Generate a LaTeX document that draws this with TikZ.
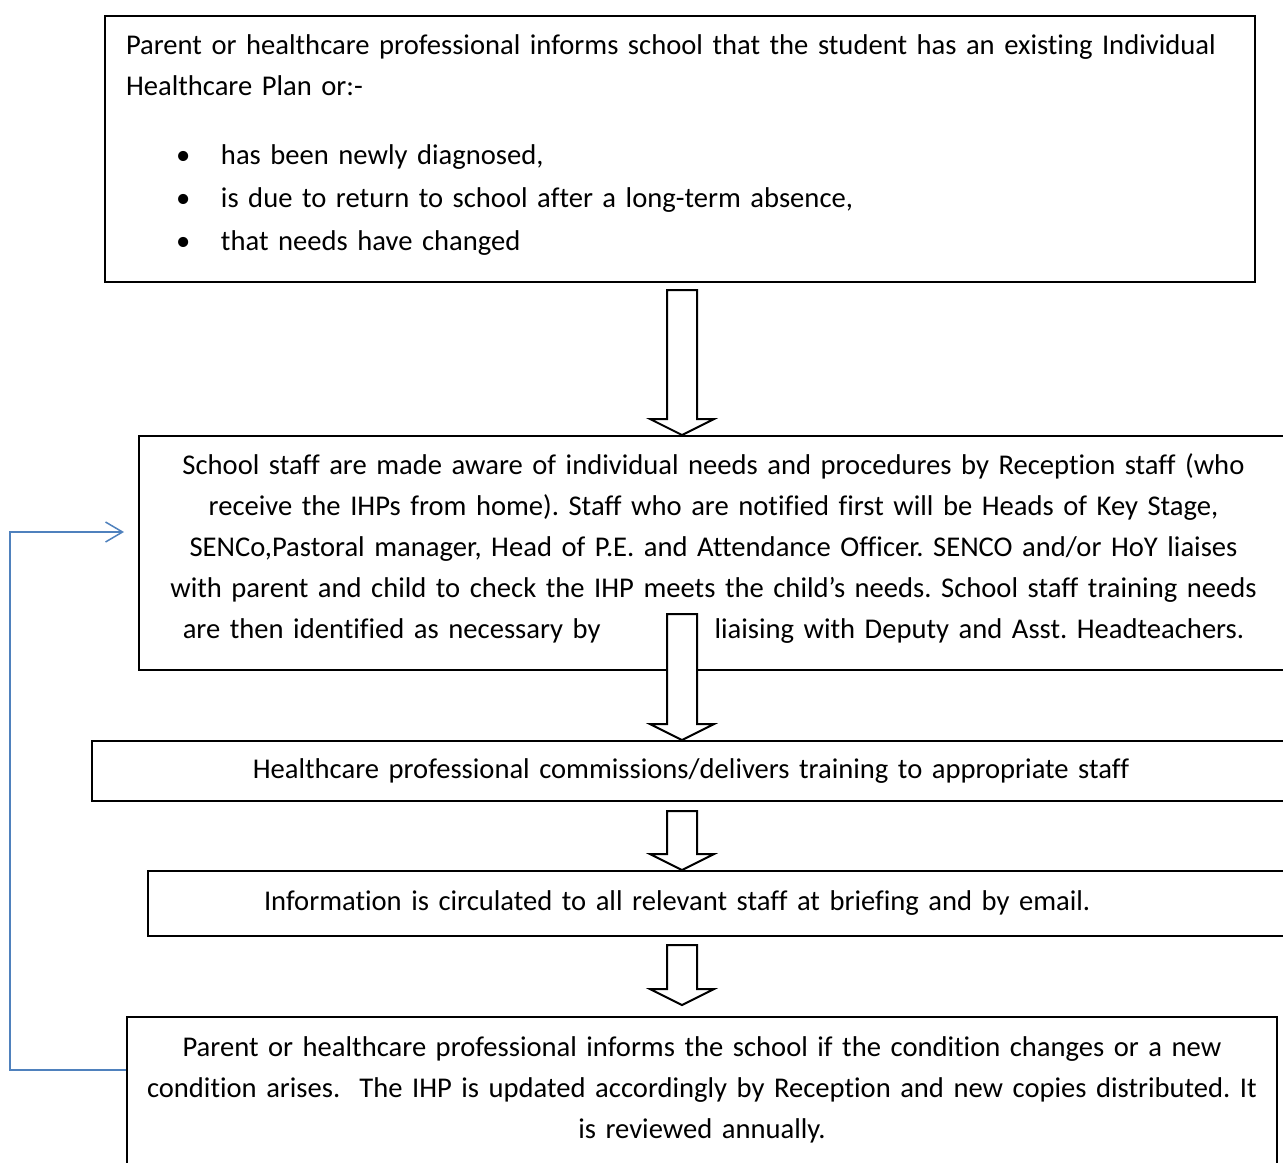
\documentclass[tikz,border=0pt]{standalone}
\usepackage{fontspec}
\setmainfont{Carlito}[Ligatures=NoCommon]
\usetikzlibrary{calc,arrows.meta}
\definecolor{fbblue}{HTML}{4F81BD}
\frenchspacing
\newcommand{\ihpbullet}[1]{\hspace*{25pt}\makebox[22.5pt][l]{\textbullet}#1}
\newcommand{\tailgap}[1]{\par\nointerlineskip\vspace{#1}\null}
\newcommand{\fatarrow}[2]{%
  \draw[line width=1pt, fill=white] ($(#1)+(-15,0)$) -- ($(#2)+(-15,16)$) -- ($(#2)+(-32,16)$) -- (#2)
    -- ($(#2)+(32,16)$) -- ($(#2)+(15,16)$) -- ($(#1)+(15,0)$) -- cycle;}
\begin{document}
\begin{tikzpicture}[x=0.5pt,y=0.5pt,
  stage/.style={draw, line width=1pt, anchor=north west, inner ysep=0pt,
    font=\fontsize{14.3pt}{20.5pt}\selectfont},
  fbline/.style={draw=fbblue, line width=0.75pt, -{Straight Barb[length=8.5pt,width=10pt]}}]
\useasboundingbox (0,0) rectangle (1283,-1162);
\clip (0,0) rectangle (1283,-1162);
% boxes
\node[stage, minimum width=575pt, minimum height=133pt, text width=554pt, inner xsep=10.5pt, align=left]
  (notify) at (104,-15)
  {Parent or healthcare professional informs school that the student has an existing Individual\\
   Healthcare Plan or:-\\[14pt]
   \ihpbullet{has been newly diagnosed,}\\[1pt]
   \ihpbullet{is due to return to school after a long-term absence,}\\[1pt]
   \ihpbullet{that needs have changed}\tailgap{4pt}};
\node[stage, minimum width=574.5pt, minimum height=117pt, text width=560pt, align=center]
  (aware) at (138,-435)
  {School staff are made aware of individual needs and procedures by Reception staff (who\\
   receive the IHPs from home). Staff who are notified first will be Heads of Key Stage,\\
   SENCo,Pastoral manager, Head of P.E. and Attendance Officer. SENCO and/or HoY liaises\\
   with parent and child to check the IHP meets the child’s needs. School staff training needs\\
   are then identified as necessary by\hspace{57pt}liaising with Deputy and Asst. Headteachers.\tailgap{5pt}};
\node[stage, minimum width=599pt, minimum height=30pt, text width=580pt, align=center]
  (train) at (91,-740)
  {Healthcare professional commissions/delivers training to appropriate staff};
\node[stage, minimum width=580pt, minimum height=32.5pt, inner xsep=58pt, text width=464pt, align=left]
  (circulate) at (147,-870)
  {Information is circulated to all relevant staff at briefing and by email.};
\node[stage, minimum width=575pt, minimum height=75pt, text width=560pt, align=center]
  (update) at (126,-1016)
  {Parent or healthcare professional informs the school if the condition changes or a new\\
   condition arises.~ The IHP is updated accordingly by Reception and new copies distributed. It\\
   is reviewed annually.\tailgap{2.5pt}};
% arrows
\coordinate (col) at (682,0);
\coordinate (a1) at ($(col |- notify.south)+(0,-7)$);
\coordinate (t1) at (col |- aware.north);
\coordinate (a2) at ($(col |- aware.south)+(0,57)$);
\coordinate (t2) at (col |- train.north);
\coordinate (a3) at ($(col |- train.south)+(0,-9)$);
\coordinate (t3) at (col |- circulate.north);
\coordinate (a4) at ($(col |- circulate.south)+(0,-8)$);
\coordinate (t4) at ($(col |- update.north)+(0,11)$);
\fatarrow{a1}{t1}
\fatarrow{a2}{t2}
\fatarrow{a3}{t3}
\fatarrow{a4}{t4}
% feedback loop
\coordinate (rail) at (10,0);
\coordinate (fbs) at ($(update.north west)+(0,-54)$);
\coordinate (fbe) at ($(aware.north west)+(-14,-97)$);
\draw[fbline] (fbs) -- (fbs -| rail) |- (fbe);
\end{tikzpicture}
\end{document}
